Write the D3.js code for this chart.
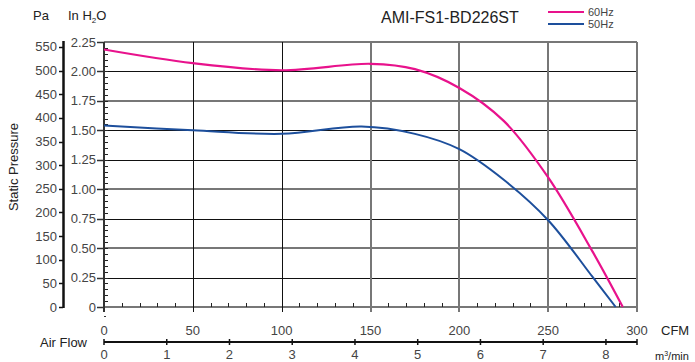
<!DOCTYPE html>
<html><head><meta charset="utf-8">
<script src="https://cdn.jsdelivr.net/npm/d3@7"></script>
<style>
body{margin:0;background:#fff;}
svg{display:block;font-family:"Liberation Sans",Arial,sans-serif;}
</style></head>
<body><svg id="c" width="695" height="362"></svg>
<script>
// ---- data ----
const title = "AMI-FS1-BD226ST";
const seriesNames = ["60Hz", "50Hz"];
const cfm60 = [0, 50, 100, 150, 175, 200, 225, 250, 275, 292];
const inh60 = [2.186, 2.07, 2.01, 2.065, 2.02, 1.86, 1.58, 1.10, 0.47, 0];
const cfm50 = [0, 50, 100, 145, 175, 200, 225, 250, 275, 288];
const inh50 = [1.542, 1.50, 1.47, 1.532, 1.47, 1.34, 1.08, 0.737, 0.255, 0];
const inTicks = [0, 0.25, 0.5, 0.75, 1.0, 1.25, 1.5, 1.75, 2.0, 2.25];
const inTickLabels = ["0", "0.25", "0.50", "0.75", "1.00", "1.25", "1.50", "1.75", "2.00", "2.25"];
const paTicks = [0, 50, 100, 150, 200, 250, 300, 350, 400, 450, 500, 550];
const cfmTicks = [0, 50, 100, 150, 200, 250, 300];
const m3Ticks = [0, 1, 2, 3, 4, 5, 6, 7, 8];

// ---- scales ----
const svg = d3.select("#c");
const x = d3.scaleLinear().domain([0, 300]).range([104, 637]);
const y = d3.scaleLinear().domain([0, 2.25]).range([307, 42]);
const yPa = d3.scaleLinear().domain([0, 2.25 * 249.09]).range([307, 42]);
const xm = d3.scaleLinear().domain([0, 300 / 35.3147]).range([104, 637]);

const labelColor = "#444";
const fs = 13;

// ---- grid ----
const g = svg.append("g");
inTicks.forEach((t, i) => {
  const dark = [0.25, 0.75, 1.25, 1.5, 2.0].includes(t);
  g.append("line").attr("x1", 104).attr("x2", 637)
    .attr("y1", Math.round(y(t)) + (dark ? 0.5 : 0)).attr("y2", Math.round(y(t)) + (dark ? 0.5 : 0))
    .attr("stroke", dark ? "#111" : "#777").attr("stroke-width", dark ? 1 : 2);
});
cfmTicks.forEach(t => {
  if (t === 0) return;
  const dark = t === 50 || t === 100;
  g.append("line").attr("y1", 42).attr("y2", 312)
    .attr("x1", Math.round(x(t)) + (dark ? 0.5 : 0)).attr("x2", Math.round(x(t)) + (dark ? 0.5 : 0))
    .attr("stroke", dark ? "#111" : "#777").attr("stroke-width", dark ? 1 : 2);
});
// minor x ticks
d3.range(10, 300, 10).filter(v => v % 50 !== 0).forEach(v => {
  g.append("line").attr("x1", Math.round(x(v)) + 0.5).attr("x2", Math.round(x(v)) + 0.5)
    .attr("y1", 303).attr("y2", 307).attr("stroke", "#222").attr("stroke-width", 1);
});
// minor y ticks
d3.range(0.05, 2.25, 0.05).forEach(v => {
  g.append("line").attr("x1", 104).attr("x2", 108)
    .attr("y1", Math.round(y(v)) + 0.5).attr("y2", Math.round(y(v)) + 0.5).attr("stroke", "#222").attr("stroke-width", 1);
});
// left plot axis
g.append("line").attr("x1", 104).attr("x2", 104).attr("y1", 42).attr("y2", 312).attr("stroke", "#333").attr("stroke-width", 2);
g.append("line").attr("x1", 104).attr("x2", 106).attr("y1", 316.5).attr("y2", 316.5).attr("stroke", "#333").attr("stroke-width", 1);

// ---- In H2O axis ----
inTicks.forEach((t, i) => {
  g.append("line").attr("x1", 97).attr("x2", 104).attr("y1", Math.round(y(t)) + 0.5).attr("y2", Math.round(y(t)) + 0.5)
    .attr("stroke", "#333").attr("stroke-width", 1.5);
  g.append("text").attr("x", 96).attr("y", y(t)).attr("dy", "0.35em").attr("text-anchor", "end")
    .attr("font-size", fs).attr("fill", labelColor).text(inTickLabels[i]);
});
// ---- Pa axis ----
g.append("line").attr("x1", 63.5).attr("x2", 63.5).attr("y1", 41).attr("y2", 308).attr("stroke", "#111").attr("stroke-width", 2.5);
paTicks.forEach(t => {
  g.append("line").attr("x1", 59).attr("x2", 63).attr("y1", Math.round(yPa(t)) + 0.5).attr("y2", Math.round(yPa(t)) + 0.5)
    .attr("stroke", "#111").attr("stroke-width", 1.5);
  g.append("text").attr("x", 57).attr("y", yPa(t)).attr("dy", "0.35em").attr("text-anchor", "end")
    .attr("font-size", fs).attr("fill", labelColor).text(t);
});

// ---- curves ----
const line = d3.line().x(d => x(d[0])).y(d => y(d[1])).curve(d3.curveCatmullRom.alpha(0.5));
svg.append("path").datum(d3.zip(cfm50, inh50)).attr("d", line).attr("fill", "none").attr("stroke", "#1d4f9c").attr("stroke-width", 2);
svg.append("path").datum(d3.zip(cfm60, inh60)).attr("d", line).attr("fill", "none").attr("stroke", "#e8128c").attr("stroke-width", 2.2);

// ---- CFM labels ----
cfmTicks.forEach(t => {
  svg.append("text").attr("x", x(t)).attr("y", 330).attr("dy", "0.35em").attr("text-anchor", "middle")
    .attr("font-size", fs).attr("fill", labelColor).text(t);
});
svg.append("text").attr("x", 661).attr("y", 330).attr("dy", "0.35em").attr("font-size", fs).attr("fill", "#222").text("CFM");

// ---- m3/min axis ----
svg.append("line").attr("x1", 104).attr("x2", 637).attr("y1", 342).attr("y2", 342).attr("stroke", "#111").attr("stroke-width", 2);
svg.append("line").attr("x1", 637).attr("x2", 637).attr("y1", 339).attr("y2", 345).attr("stroke", "#111").attr("stroke-width", 1.5);
m3Ticks.forEach(t => {
  svg.append("line").attr("x1", xm(t)).attr("x2", xm(t)).attr("y1", 339).attr("y2", 345).attr("stroke", "#111").attr("stroke-width", 1.5);
  svg.append("text").attr("x", xm(t)).attr("y", 354).attr("dy", "0.35em").attr("text-anchor", "middle")
    .attr("font-size", fs).attr("fill", labelColor).text(t);
});
svg.append("text").attr("x", 655).attr("y", 356).attr("dy", "0.35em").attr("font-size", 11).attr("fill", "#222")
  .html('m<tspan font-size="7" dy="-4">3</tspan><tspan dy="4">/min</tspan>');
svg.append("text").attr("x", 87).attr("y", 342).attr("dy", "0.35em").attr("text-anchor", "end").attr("font-size", fs).attr("fill", "#222").text("Air Flow");

// ---- axis titles ----
svg.append("text").attr("x", 33).attr("y", 15).attr("dy", "0.35em").attr("font-size", fs).attr("fill", "#222").text("Pa");
svg.append("text").attr("x", 68).attr("y", 15).attr("dy", "0.35em").attr("font-size", fs).attr("fill", "#222")
  .html('In H<tspan font-size="8" dy="3">2</tspan><tspan dy="-3">O</tspan>');
svg.append("text").attr("transform", "translate(18,167) rotate(-90)").attr("text-anchor", "middle")
  .attr("font-size", fs).attr("fill", "#222").text("Static Pressure");

// ---- title & legend ----
svg.append("text").attr("x", 381).attr("y", 17).attr("dy", "0.35em").attr("font-size", 16).attr("fill", "#222").text(title);
const legColors = ["#e8128c", "#1d4f9c"];
seriesNames.forEach((n, i) => {
  const ly = 12 + i * 12;
  svg.append("line").attr("x1", 548).attr("x2", 584).attr("y1", ly).attr("y2", ly).attr("stroke", legColors[i]).attr("stroke-width", 2);
  svg.append("text").attr("x", 588).attr("y", ly).attr("dy", "0.35em").attr("font-size", 11).attr("fill", labelColor).text(n);
});
</script></body></html>
